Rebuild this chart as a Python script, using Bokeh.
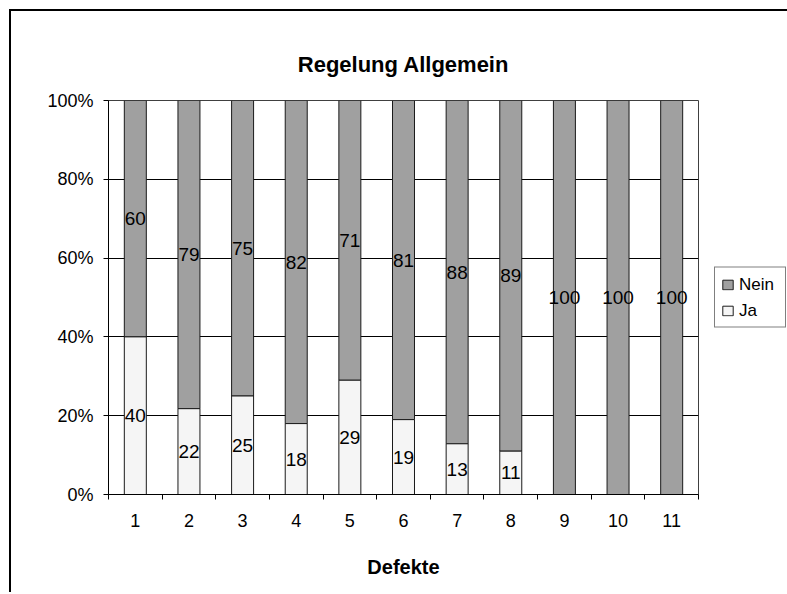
from bokeh.plotting import figure
from bokeh.models import (Range1d, FixedTicker, NumeralTickFormatter, Legend, LegendItem,
                          ColumnDataSource, Title)
from bokeh.embed import file_html
from bokeh.resources import INLINE

# ---- data ----
categories = ["1", "2", "3", "4", "5", "6", "7", "8", "9", "10", "11"]
ja_values = [40, 22, 25, 18, 29, 19, 13, 11, 0, 0, 0]
nein_values = [60, 79, 75, 82, 71, 81, 88, 89, 100, 100, 100]
title_text = "Regelung Allgemein"
x_label = "Defekte"
series_names = ["Nein", "Ja"]

FONT = "Liberation Sans"
NEIN_COLOR = "#a0a0a0"
JA_COLOR = "#f5f5f5"

xs = list(range(1, len(categories) + 1))
totals = [a + b for a, b in zip(ja_values, nein_values)]
ja_frac = [a / t for a, t in zip(ja_values, totals)]

src = ColumnDataSource(dict(
    x=xs,
    ja_top=ja_frac,
    zero=[0.0] * len(xs),
    one=[1.0] * len(xs),
))

p = figure(frame_width=590, frame_height=394, output_backend="svg", toolbar_location=None,
           x_range=Range1d(0.5, len(categories) + 0.5), y_range=Range1d(0, 1),
           min_border_left=97, min_border_right=80, min_border_top=89, min_border_bottom=98)
p.styles = {"border-left": "2px solid black", "border-top": "2px solid black",
            "margin-left": "9px", "margin-top": "9px"}

p.background_fill_color = "white"
p.border_fill_color = "white"
p.outline_line_color = "#404040"
p.outline_line_width = 1

# Bars
r_nein = p.vbar(x="x", width=0.41, bottom="ja_top", top="one", source=src,
                fill_color=NEIN_COLOR, line_color="#1a1a1a", line_width=1)
r_ja = p.vbar(x="x", width=0.41, bottom="zero", top="ja_top", source=src,
              fill_color=JA_COLOR, line_color="#1a1a1a", line_width=1)

# data labels
ja_lab = dict(x=[], y=[], t=[])
nein_lab = dict(x=[], y=[], t=[])
for x, a, b, f in zip(xs, ja_values, nein_values, ja_frac):
    if a > 0:
        ja_lab["x"].append(x); ja_lab["y"].append(f / 2); ja_lab["t"].append(str(a))
    if b > 0:
        nein_lab["x"].append(x); nein_lab["y"].append(f + (1 - f) / 2); nein_lab["t"].append(str(b))
for d in (ja_lab, nein_lab):
    p.text(x="x", y="y", text="t", source=ColumnDataSource(d), text_align="center",
           text_baseline="middle", text_font_size="19px", text_color="black",
           text_font={"value": FONT})

# axes
p.xgrid.grid_line_color = None
p.ygrid.grid_line_color = "black"
p.ygrid.grid_line_width = 1
p.ygrid.ticker = FixedTicker(ticks=[0, 0.2, 0.4, 0.6, 0.8, 1.0])

p.yaxis.ticker = FixedTicker(ticks=[0, 0.2, 0.4, 0.6, 0.8, 1.0])
p.yaxis.formatter = NumeralTickFormatter(format="0%")
p.yaxis.major_tick_in = 0
p.yaxis.major_tick_out = 5
p.yaxis.minor_tick_line_color = None
p.yaxis.major_label_text_font_size = "18px"
p.yaxis.major_label_text_font = FONT
p.yaxis.major_label_text_color = "black"
p.yaxis.major_label_standoff = 10
p.yaxis.axis_line_color = "black"
p.yaxis.major_tick_line_color = "black"

p.xaxis.ticker = FixedTicker(ticks=xs, minor_ticks=[x - 0.5 for x in xs] + [xs[-1] + 0.5])
p.xaxis.major_label_overrides = {x: c for x, c in zip(xs, categories)}
p.xaxis.major_tick_line_color = None
p.xaxis.major_tick_in = 0
p.xaxis.major_tick_out = 0
p.xaxis.minor_tick_in = 0
p.xaxis.minor_tick_out = 5
p.xaxis.minor_tick_line_color = "black"
p.xaxis.axis_line_color = "black"
p.xaxis.major_label_text_font_size = "18px"
p.xaxis.major_label_text_font = FONT
p.xaxis.major_label_text_color = "black"
p.xaxis.major_label_standoff = 14
p.xaxis.axis_label = x_label
p.xaxis.axis_label_text_font = FONT
p.xaxis.axis_label_text_font_size = "20px"
p.xaxis.axis_label_text_font_style = "bold"
p.xaxis.axis_label_text_color = "black"
p.xaxis.axis_label_standoff = 26

# title
p.title = Title(text=title_text, align="center", text_font=FONT, text_font_size="22px",
                text_font_style="bold", text_color="black", standoff=48)

# legend (in the right side panel, outside the plot frame)
legend = Legend(items=[LegendItem(label=series_names[0], renderers=[r_nein]),
                       LegendItem(label=series_names[1], renderers=[r_ja])],
                location="center_left", orientation="vertical",
                border_line_color="black", border_line_width=1,
                background_fill_color="white", background_fill_alpha=1,
                label_text_font=FONT, label_text_font_size="17px", label_text_color="black",
                glyph_width=13, glyph_height=12, label_standoff=5, label_height=21,
                label_width=40, spacing=5, padding=6, margin=16)
p.add_layout(legend, "right")

open("out.html", "w").write(file_html(p, INLINE))
